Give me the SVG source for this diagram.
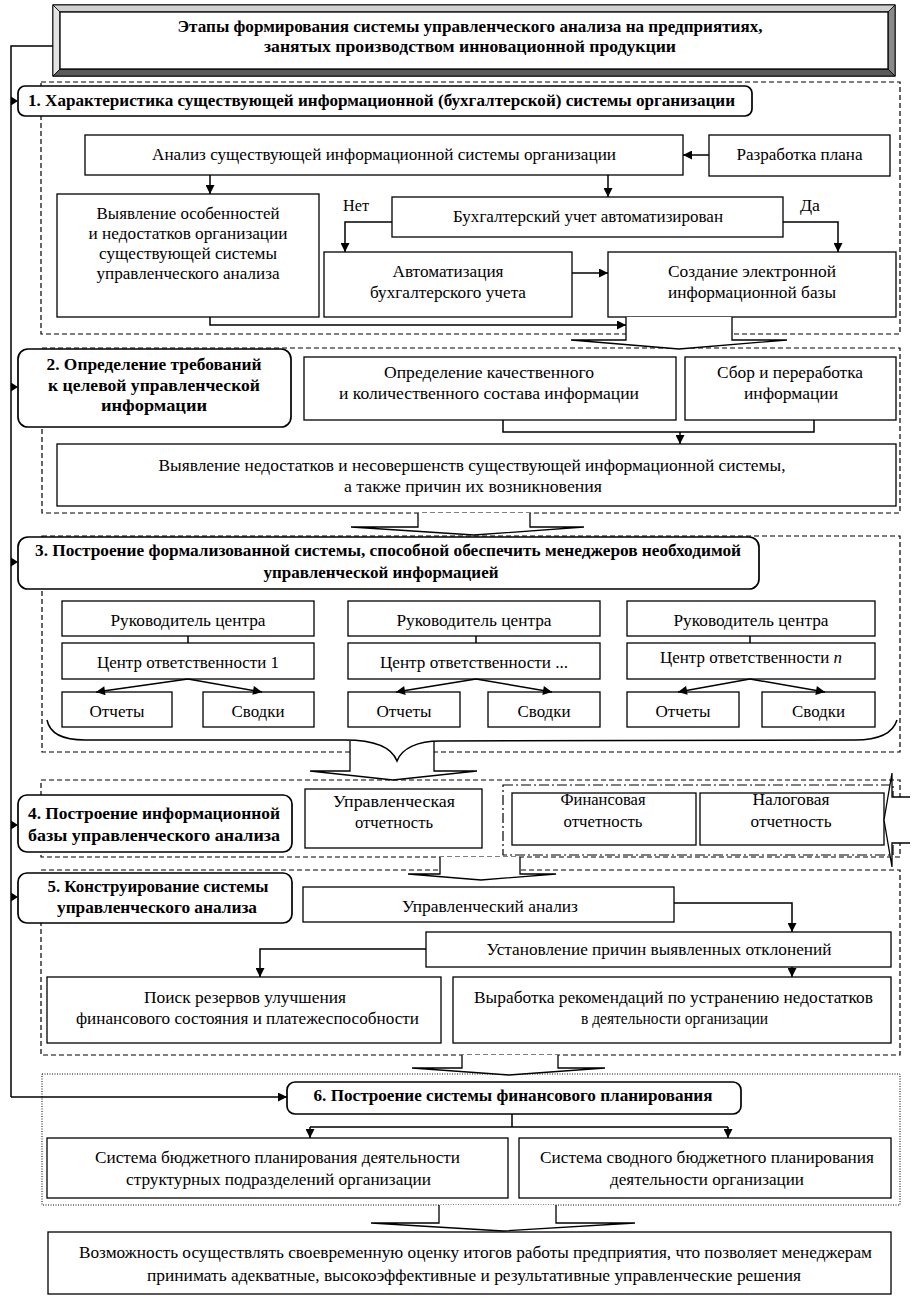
<svg xmlns="http://www.w3.org/2000/svg" width="915" height="1300" viewBox="0 0 915 1300">
<defs>
<style>
.box{fill:#fff;stroke:#000;stroke-width:1.3}
.hdr{fill:#fff;stroke:#000;stroke-width:1.7}
.dash{fill:none;stroke:#000;stroke-width:1.2;stroke-dasharray:5 3}
.dot{fill:none;stroke:#000;stroke-width:1;stroke-dasharray:1 1.5}
.dashdot{fill:none;stroke:#000;stroke-width:1.2;stroke-dasharray:10 3 2 3}
.ln{fill:none;stroke:#000;stroke-width:1.5}
.ar{fill:none;stroke:#000;stroke-width:1.5;marker-end:url(#ah)}
.blk{fill:#fff;stroke:#000;stroke-width:1.3}
.t{font-family:'Liberation Serif','Times New Roman','DejaVu Serif',serif;font-size:17px;fill:#000;text-anchor:middle}
.l{text-anchor:start}
.b{font-weight:bold}
</style>
<marker id="ah" viewBox="0 0 10 10" refX="10" refY="5" markerWidth="10" markerHeight="9" markerUnits="userSpaceOnUse" orient="auto"><path d="M0,0 L10,5 L0,10 z" fill="#000"/></marker>
</defs>

<!-- section frames -->
<g id="frames">
<rect class="dash" x="41" y="82" width="859" height="252"/>
<rect class="dash" x="42" y="348" width="858" height="165"/>
<rect class="dash" x="42" y="536" width="858" height="216"/>
<rect class="dash" x="41" y="780" width="859" height="77"/>
<rect class="dash" x="41" y="870" width="859" height="185"/>
<rect class="dot" x="42" y="1074" width="858" height="131"/>
</g>

<!-- title -->
<g id="title">
<rect x="53" y="5" width="842" height="71" fill="#fff" stroke="#000" stroke-width="1.3"/>
<polygon points="53,5 895,5 888,12 60,12" fill="#cfcfcf" stroke="#000" stroke-width="0.8"/>
<polygon points="53,5 60,12 60,69 53,76" fill="#e4e4e4" stroke="#000" stroke-width="0.8"/>
<polygon points="895,5 895,76 888,69 888,12" fill="#8a8a8a" stroke="#000" stroke-width="0.8"/>
<polygon points="53,76 895,76 888,69 60,69" fill="#5a5a5a" stroke="#000" stroke-width="0.8"/>
<rect x="60" y="12" width="828" height="57" fill="#fff" stroke="#000" stroke-width="1.3"/>
<text class="t b" x="470" y="32" textLength="585" lengthAdjust="spacingAndGlyphs">Этапы формирования системы управленческого анализа на предприятиях,</text>
<text class="t b" x="470" y="52" textLength="412" lengthAdjust="spacingAndGlyphs">занятых производством инновационной продукции</text>
</g>

<!-- section headers -->
<g id="h1"><rect class="hdr" x="18" y="86" width="734" height="30" rx="7"/>
<text class="t b l" x="28" y="106" textLength="707" lengthAdjust="spacingAndGlyphs">1. Характеристика существующей информационной (бухгалтерской) системы организации</text></g>
<g id="h2"><rect class="hdr" x="18" y="349" width="273" height="78" rx="10"/>
<text class="t b" x="154" y="370" textLength="215" lengthAdjust="spacingAndGlyphs">2. Определение требований</text>
<text class="t b" x="154" y="391" textLength="212" lengthAdjust="spacingAndGlyphs">к целевой управленческой</text>
<text class="t b" x="154" y="411" textLength="106" lengthAdjust="spacingAndGlyphs">информации</text></g>
<g id="h3"><rect class="hdr" x="18" y="537" width="741" height="52" rx="10"/>
<text class="t b" x="388" y="556" textLength="706" lengthAdjust="spacingAndGlyphs">3. Построение формализованной системы, способной обеспечить менеджеров необходимой</text>
<text class="t b" x="381" y="578" textLength="235" lengthAdjust="spacingAndGlyphs">управленческой информацией</text></g>
<g id="h4"><rect class="hdr" x="18" y="795" width="274" height="57" rx="9"/>
<text class="t b" x="154" y="819" textLength="252" lengthAdjust="spacingAndGlyphs">4. Построение информационной</text>
<text class="t b" x="154" y="841" textLength="252" lengthAdjust="spacingAndGlyphs">базы управленческого анализа</text></g>
<g id="h5"><rect class="hdr" x="18" y="873" width="274" height="50" rx="9"/>
<text class="t b" x="158" y="892" textLength="221" lengthAdjust="spacingAndGlyphs">5. Конструирование системы</text>
<text class="t b" x="157" y="913" textLength="200" lengthAdjust="spacingAndGlyphs">управленческого анализа</text></g>
<g id="h6"><rect class="hdr" x="287" y="1082" width="454" height="32" rx="8"/>
<text class="t b" x="513" y="1101" textLength="399" lengthAdjust="spacingAndGlyphs">6. Построение системы финансового планирования</text></g>

<!-- section 1 nodes -->
<g id="n-analiz"><rect class="box" x="85" y="135" width="598" height="40"/>
<text class="t" x="384" y="160" textLength="464" lengthAdjust="spacingAndGlyphs">Анализ существующей информационной системы организации</text></g>
<g id="n-plan"><rect class="box" x="709" y="135" width="181" height="41"/>
<text class="t" x="799.5" y="160" textLength="126" lengthAdjust="spacingAndGlyphs">Разработка плана</text></g>
<g id="n-vyyavl"><rect class="box" x="57" y="194" width="262" height="123"/>
<text class="t" x="188" y="219" textLength="183" lengthAdjust="spacingAndGlyphs">Выявление особенностей</text>
<text class="t" x="188" y="239" textLength="199" lengthAdjust="spacingAndGlyphs">и недостатков организации</text>
<text class="t" x="188" y="259" textLength="178" lengthAdjust="spacingAndGlyphs">существующей системы</text>
<text class="t" x="188" y="279" textLength="183" lengthAdjust="spacingAndGlyphs">управленческого анализа</text></g>
<g id="n-buh"><rect class="box" x="392" y="197" width="391" height="40"/>
<text class="t" x="588" y="222" textLength="270" lengthAdjust="spacingAndGlyphs">Бухгалтерский учет автоматизирован</text></g>
<g id="n-avto"><rect class="box" x="324" y="252" width="248" height="65"/>
<text class="t" x="448" y="277" textLength="111" lengthAdjust="spacingAndGlyphs">Автоматизация</text>
<text class="t" x="448" y="298" textLength="156" lengthAdjust="spacingAndGlyphs">бухгалтерского учета</text></g>
<g id="n-sozd"><rect class="box" x="608" y="252" width="288" height="65"/>
<text class="t" x="752" y="277" textLength="168" lengthAdjust="spacingAndGlyphs">Создание электронной</text>
<text class="t" x="752" y="298" textLength="168" lengthAdjust="spacingAndGlyphs">информационной базы</text></g>

<!-- section 2 nodes -->
<g id="n-opr"><rect class="box" x="304" y="357" width="372" height="63"/>
<text class="t" x="489" y="378" textLength="210" lengthAdjust="spacingAndGlyphs">Определение качественного</text>
<text class="t" x="489" y="399" textLength="300" lengthAdjust="spacingAndGlyphs">и количественного состава информации</text></g>
<g id="n-sbor"><rect class="box" x="685" y="357" width="211" height="63"/>
<text class="t" x="790" y="378" textLength="146" lengthAdjust="spacingAndGlyphs">Сбор и переработка</text>
<text class="t" x="791" y="399" textLength="94" lengthAdjust="spacingAndGlyphs">информации</text></g>
<g id="n-nedost"><rect class="box" x="57" y="444" width="839" height="62"/>
<text class="t" x="472" y="471" textLength="627" lengthAdjust="spacingAndGlyphs">Выявление недостатков и несовершенств существующей информационной системы,</text>
<text class="t" x="473" y="492" textLength="258" lengthAdjust="spacingAndGlyphs">а также причин их возникновения</text></g>

<!-- section 3 nodes -->
<g id="col1">
<rect class="box" x="62" y="601" width="252" height="35"/><text class="t" x="188" y="626" textLength="155" lengthAdjust="spacingAndGlyphs">Руководитель центра</text>
<rect class="box" x="62" y="643" width="252" height="36"/><text class="t" x="188" y="668" textLength="182" lengthAdjust="spacingAndGlyphs">Центр ответственности 1</text>
<rect class="box" x="62" y="692" width="110" height="35"/><text class="t" x="117" y="717" textLength="55" lengthAdjust="spacingAndGlyphs">Отчеты</text>
<rect class="box" x="203" y="692" width="111" height="35"/><text class="t" x="258" y="717" textLength="53" lengthAdjust="spacingAndGlyphs">Сводки</text>
</g>
<g id="col2">
<rect class="box" x="348" y="601" width="252" height="35"/><text class="t" x="474" y="626" textLength="155" lengthAdjust="spacingAndGlyphs">Руководитель центра</text>
<rect class="box" x="348" y="643" width="252" height="36"/><text class="t" x="474" y="668" textLength="188" lengthAdjust="spacingAndGlyphs">Центр ответственности ...</text>
<rect class="box" x="348" y="692" width="112" height="35"/><text class="t" x="404" y="717" textLength="55" lengthAdjust="spacingAndGlyphs">Отчеты</text>
<rect class="box" x="488" y="692" width="112" height="35"/><text class="t" x="544" y="717" textLength="53" lengthAdjust="spacingAndGlyphs">Сводки</text>
</g>
<g id="col3">
<rect class="box" x="627" y="601" width="248" height="35"/><text class="t" x="751" y="626" textLength="155" lengthAdjust="spacingAndGlyphs">Руководитель центра</text>
<rect class="box" x="627" y="643" width="248" height="36"/><text class="t" x="751" y="663" textLength="182" lengthAdjust="spacingAndGlyphs">Центр ответственности <tspan font-style="italic">n</tspan></text>
<rect class="box" x="627" y="692" width="112" height="35"/><text class="t" x="683" y="717" textLength="55" lengthAdjust="spacingAndGlyphs">Отчеты</text>
<rect class="box" x="762" y="692" width="113" height="35"/><text class="t" x="818.5" y="717" textLength="53" lengthAdjust="spacingAndGlyphs">Сводки</text>
</g>

<!-- section 4 nodes -->
<g id="n-uo"><rect class="box" x="305" y="789" width="177" height="59"/>
<text class="t" x="394" y="807" textLength="122" lengthAdjust="spacingAndGlyphs">Управленческая</text>
<text class="t" x="394" y="828" textLength="78" lengthAdjust="spacingAndGlyphs">отчетность</text></g>
<rect class="dashdot" x="503" y="785" width="390" height="70"/>
<g id="n-fin"><rect class="box" x="512" y="793" width="184" height="52"/>
<text class="t" x="603" y="805" textLength="85" lengthAdjust="spacingAndGlyphs">Финансовая</text>
<text class="t" x="603" y="827" textLength="79" lengthAdjust="spacingAndGlyphs">отчетность</text></g>
<g id="n-nal"><rect class="box" x="700" y="793" width="184" height="52"/>
<text class="t" x="791" y="805" textLength="77" lengthAdjust="spacingAndGlyphs">Налоговая</text>
<text class="t" x="791" y="827" textLength="81" lengthAdjust="spacingAndGlyphs">отчетность</text></g>

<!-- section 5 nodes -->
<g id="n-ua"><rect class="box" x="303" y="887" width="371" height="35"/>
<text class="t" x="490" y="912" textLength="176" lengthAdjust="spacingAndGlyphs">Управленческий анализ</text></g>
<g id="n-ust"><rect class="box" x="426" y="932" width="465" height="35"/>
<text class="t" x="659" y="955" textLength="345" lengthAdjust="spacingAndGlyphs">Установление причин выявленных отклонений</text></g>
<g id="n-poisk"><rect class="box" x="47" y="977" width="394" height="66"/>
<text class="t" x="245" y="1003" textLength="202" lengthAdjust="spacingAndGlyphs">Поиск резервов улучшения</text>
<text class="t" x="247.5" y="1024" textLength="343" lengthAdjust="spacingAndGlyphs">финансового состояния и платежеспособности</text></g>
<g id="n-vyrab"><rect class="box" x="453" y="977" width="438" height="66"/>
<text class="t" x="673.5" y="1003" textLength="399" lengthAdjust="spacingAndGlyphs">Выработка рекомендаций по устранению недостатков</text>
<text class="t" x="674.5" y="1024" textLength="187" lengthAdjust="spacingAndGlyphs">в деятельности организации</text></g>

<!-- section 6 nodes -->
<g id="n-bud1"><rect class="box" x="47" y="1138" width="461" height="60"/>
<text class="t" x="277.5" y="1163" textLength="365" lengthAdjust="spacingAndGlyphs">Система бюджетного планирования деятельности</text>
<text class="t" x="278.5" y="1185" textLength="305" lengthAdjust="spacingAndGlyphs">структурных подразделений организации</text></g>
<g id="n-bud2"><rect class="box" x="519" y="1138" width="372" height="60"/>
<text class="t" x="707" y="1163" textLength="334" lengthAdjust="spacingAndGlyphs">Система сводного бюджетного планирования</text>
<text class="t" x="707" y="1185" textLength="194" lengthAdjust="spacingAndGlyphs">деятельности организации</text></g>

<!-- final -->
<g id="n-final"><rect class="box" x="48" y="1232" width="843" height="62"/>
<text class="t" x="475.5" y="1258" textLength="793" lengthAdjust="spacingAndGlyphs">Возможность осуществлять своевременную оценку итогов работы предприятия, что позволяет менеджерам</text>
<text class="t" x="474" y="1281" textLength="654" lengthAdjust="spacingAndGlyphs">принимать адекватные, высокоэффективные и результативные управленческие решения</text></g>

<!-- connectors -->
<g id="connectors">
<path class="ln" d="M53,46 H11 V1097"/>
<path class="ar" d="M11,1097 H287"/>
<g fill="#000">
<polygon points="11,96.5 18,101 11,105.5"/>
<polygon points="11,382.5 18,387 11,391.5"/>
<polygon points="11,557.5 18,562 11,566.5"/>
<polygon points="11,820.5 18,825 11,829.5"/>
<polygon points="11,892.5 18,897 11,901.5"/>
</g>
<path class="ar" d="M709,155 H683"/>
<path class="ar" d="M210,175 V194"/>
<path class="ar" d="M608,175 V197"/>
<path class="ar" d="M392,222 H345 V252"/>
<path class="ar" d="M783,222 H838 V252"/>
<path class="ar" d="M572,273 H608"/>
<path class="ar" d="M210,317 V325 H626"/>
<text class="t l" x="343" y="211" textLength="26" lengthAdjust="spacingAndGlyphs">Нет</text>
<text class="t l" x="800" y="211" textLength="20" lengthAdjust="spacingAndGlyphs">Да</text>
<path class="ln" d="M503,420 V432 H814 V420"/>
<path class="ar" d="M680,432 V444"/>
<path class="ln" d="M188,636 V643 M476,636 V643 M750,636 V643"/>
<path class="ar" d="M188,679 L96,692"/>
<path class="ar" d="M188,679 L262,692"/>
<path class="ar" d="M476,679 L396,692"/>
<path class="ar" d="M476,679 L552,692"/>
<path class="ar" d="M750,679 L678,692"/>
<path class="ar" d="M750,679 L825,692"/>
<path class="ar" d="M674,903 H792 V932"/>
<path class="ar" d="M426,949 H260 V977"/>
<path class="ar" d="M792,967 V977"/>
<path class="ln" d="M512,1114 V1127 M310,1127 H728"/>
<path class="ar" d="M310,1127 V1138"/>
<path class="ar" d="M728,1127 V1138"/>
</g>

<!-- block arrows -->
<g id="block-arrows">
<path class="blk" d="M626,317 V340 H571 L679,349 L787,340 H732 V317"/>
<path class="blk" d="M418,513 V527 H351 L474,535 L584,527 H530 V513"/>
<path class="blk" d="M350,741 V771 H310 L393,780 L477,771 H434 V741"/>
<path class="blk" d="M440,857 V874 H408 L481,880 L556,874 H520 V857"/>
<path class="blk" d="M462,1055 V1068 H412 L509,1075 L605,1068 H558 V1055"/>
<path class="blk" d="M439,1205 V1223 H371 L503,1231 L635,1223 H556 V1205"/>
<path class="blk" d="M910,797 H892 V773 L884,820 L892,867 V843 H910"/>
<path class="ln" d="M47,720 C50,735 64,740 85,740 L345,740 C375,740 392,748 397,761 C402,748 418,741 440,741 L855,740 C880,740 893,733 897,720"/>
</g>
</svg>
